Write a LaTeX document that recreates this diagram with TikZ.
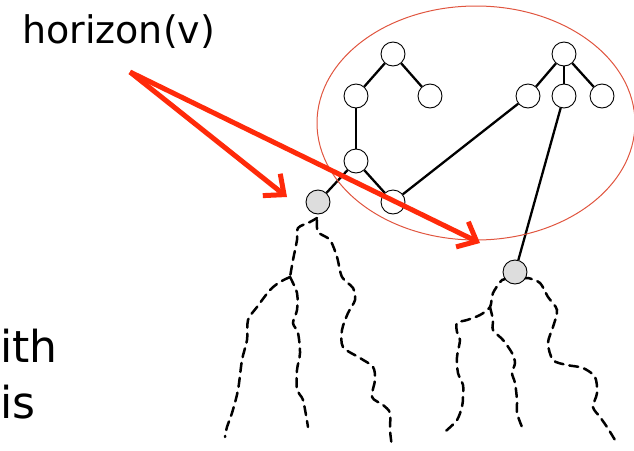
\documentclass[tikz,border=0pt]{standalone}
\usepackage{fontspec}
\setmainfont{DejaVu Sans}
\usetikzlibrary{arrows.meta}
\definecolor{hred}{HTML}{FF2A0A}
\definecolor{ringred}{HTML}{E0553F}
\definecolor{vgrey}{HTML}{DDDDDD}
\tikzset{
  vtx/.style={circle, draw=black, line width=0.9pt, fill=white, minimum size=24pt, inner sep=0pt},
  gvtx/.style={vtx, fill=vgrey},
  tedge/.style={line width=2.3pt, black},
  wiggle/.style={line width=2.5pt, black, dash pattern=on 9pt off 6pt, line cap=round},
  pointer/.style={line width=5pt, hred, -{Straight Barb[length=16pt,width=28pt]}},
  bigtext/.style={inner sep=0pt, anchor=base west},
}
\begin{document}
\begin{tikzpicture}[x=1pt,y=-1pt]
\useasboundingbox (0,0) rectangle (634,450);

% fringe subtrees below the horizon vertices
\draw[wiggle] plot[smooth, tension=0.5] coordinates {(317,218) (310,222) (298,228) (297,240) (293,260) (290,277)};
\draw[wiggle] plot[smooth, tension=0.5] coordinates {(290,277) (280,282) (270,290) (257,307) (248,320) (247,340) (242,360) (238,390) (232,413) (227,427) (225,437)};
\draw[wiggle] plot[smooth, tension=0.5] coordinates {(290,277) (297,293) (297,310) (293,323) (298,333) (300,353) (297,370) (297,390) (303,400) (308,427)};
\draw[wiggle] plot[smooth, tension=0.5] coordinates {(317,220) (318,232) (330,240) (337,257) (342,277) (353,288) (355,300) (348,313) (342,330) (343,347) (360,358) (373,367) (375,380) (372,397) (383,405) (390,413) (390,430) (392,447)};

\draw[wiggle] plot[smooth, tension=0.5] coordinates {(508,279) (502,280) (493,293) (490,307) (480,315) (467,320) (457,323) (457,332) (460,340) (457,357) (458,373) (463,385) (463,397) (462,407) (457,420) (447,430) (443,433)};
\draw[wiggle] plot[smooth, tension=0.5] coordinates {(490,307) (493,320) (493,330) (503,340) (512,353) (515,363) (512,373) (515,383) (517,400) (517,413) (522,427)};
\draw[wiggle] plot[smooth, tension=0.5] coordinates {(523,279) (528,278) (540,283) (548,297) (557,310) (553,327) (548,343) (553,360) (567,365) (583,368) (595,377) (597,393) (593,407) (600,417) (607,427) (615,440)};

% explored tree vertices
\node[vtx] (r1) at (393,54) {};
\node[vtx] (a)  at (356,96) {};
\node[vtx] (b)  at (430,96) {};
\node[vtx] (c)  at (356,161) {};
\node[vtx] (d)  at (393,202) {};
\node[gvtx] (g1) at (318,202) {};
\node[vtx] (r2) at (564,54) {};
\node[vtx] (e)  at (528,96) {};
\node[vtx] (f)  at (564,96) {};
\node[vtx] (h)  at (602,96) {};
\node[gvtx] (g2) at (515,272) {};

% tree edges
\draw[tedge] (r1) -- (a);
\draw[tedge] (r1) -- (b);
\draw[tedge] (a) -- (c);
\draw[tedge] (c) -- (g1);
\draw[tedge] (c) -- (d);
\draw[tedge] (d) -- (e);
\draw[tedge] (r2) -- (e);
\draw[tedge] (r2) -- (f);
\draw[tedge] (r2) -- (h);
\draw[tedge] (f) -- (g2);

% the horizon region
\draw[ringred, line width=1pt] (476,123) ellipse [x radius=159, y radius=117];

% labels
\node[bigtext, font=\fontsize{38}{44}\selectfont] (lbl) at (22,43) {horizon(v)};
\node[bigtext, font=\fontsize{44}{50}\selectfont] (t1) at (0,362) {ith};
\node[bigtext, font=\fontsize{44}{50}\selectfont] (t2) at (0,418) {is};

% pointers from the label
\coordinate (src) at (130,72);
\coordinate (tipA) at (287,197);
\coordinate (tipB) at (480,243);
\draw[pointer] (src) -- (tipA);
\draw[pointer] (src) -- (tipB);
\end{tikzpicture}
\end{document}
